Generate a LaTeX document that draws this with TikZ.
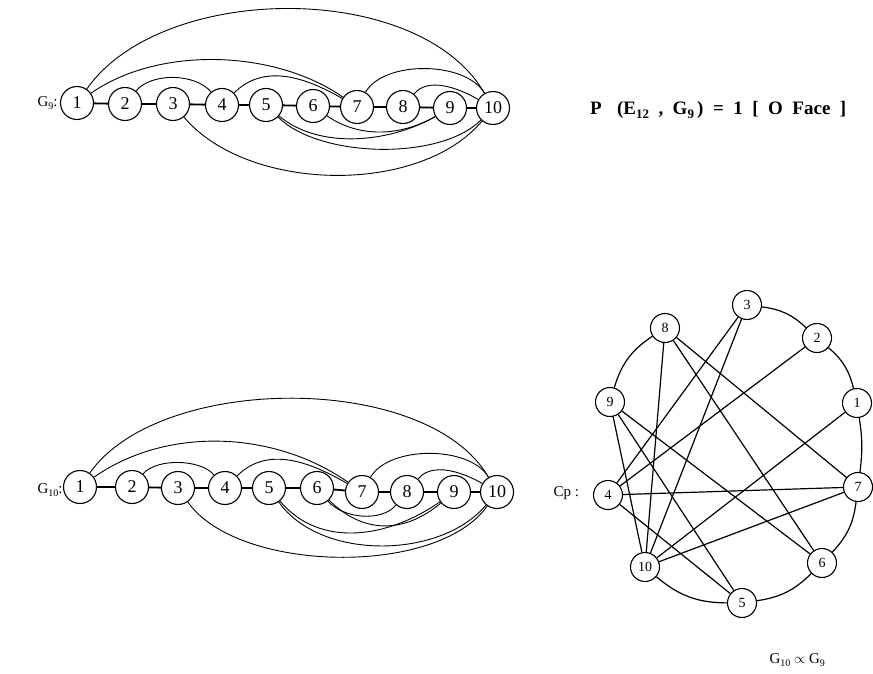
\documentclass[tikz,border=0pt]{standalone}
\usepackage{fontspec}
\setmainfont{Liberation Serif}
\newcommand\lowsub[1]{\raisebox{-0.45ex}{\fontsize{10}{10}\selectfont #1}}
\newcommand\psub[1]{\raisebox{-0.5ex}{\fontsize{13}{13}\selectfont #1}}
\begin{document}
\begin{tikzpicture}[x=1pt,y=1pt,
  vx/.style={circle,draw,line width=1.1pt,minimum size=33pt,inner sep=0pt,font=\fontsize{18}{18}\selectfont},
  cx/.style={circle,draw,line width=1.1pt,minimum size=29pt,inner sep=0pt,font=\fontsize{14}{14}\selectfont},
  pe/.style={line width=1.8pt},
  arc/.style={line width=0.9pt},
  ch/.style={line width=1.2pt},
  lbl/.style={font=\fontsize{15}{15}\selectfont}]
\useasboundingbox (0,0) rectangle (873,-674);
% ---------- G9 ----------
\foreach \i/\x/\y in {1/77/103,2/125/104,3/173/104,4/222/105,5/266/105,6/313/106,7/357/107,8/403/107,9/450/108,10/493/108}
  \node[vx] (a\i) at (\x,-\y) {\i};
\draw[pe] (a1)--(a2)--(a3)--(a4)--(a5)--(a6)--(a7)--(a8)--(a9)--(a10);
\draw[arc] (a1) to[out=55,in=120,looseness=0.84] (a10);
\draw[arc] (a1) to[out=35,in=145,looseness=0.84] (a7);
\draw[arc] (a2) to[out=50,in=130,looseness=0.83] (a4);
\draw[arc] (a4) to[out=45,in=150,looseness=1.0] (a7);
\draw[arc] (a7) to[out=60,in=120,looseness=0.8] (a10);
\draw[arc] (a8) to[out=50,in=150,looseness=0.9] (a10);
\draw[arc] (a3) to[out=-50,in=-130,looseness=0.84] (a10);
\draw[arc] (a5) to[out=-40,in=-150,looseness=0.86] (a9);
\draw[arc] (a5) to[out=-45,in=-135,looseness=0.73] (a10);
\draw[arc] (a6) to[out=-35,in=-150,looseness=0.93] (a9);
\node[lbl,anchor=west] (lg9) at (34,-103) {G\lowsub{9}:};
% ---------- G10 ----------
\foreach \i/\x/\y in {1/80/487,2/132/487,3/178/488,4/225/488,5/269/488,6/317/488,7/362/492,8/407/492,9/454/492,10/497/492}
  \node[vx] (b\i) at (\x,-\y) {\i};
\draw[pe] (b1)--(b2)--(b3)--(b4)--(b5)--(b6)--(b7)--(b8)--(b9)--(b10);
\draw[arc] (b1) to[out=55,in=120,looseness=0.78] (b10);
\draw[arc] (b1) to[out=35,in=145,looseness=0.9] (b7);
\draw[arc] (b2) to[out=50,in=130,looseness=0.75] (b4);
\draw[arc] (b4) to[out=45,in=150,looseness=1.0] (b7);
\draw[arc] (b7) to[out=60,in=120,looseness=0.8] (b10);
\draw[arc] (b8) to[out=50,in=150,looseness=0.9] (b10);
\draw[arc] (b6) to[out=-50,in=-130,looseness=0.85] (b8);
\draw[arc] (b6) to[out=-45,in=-140,looseness=1.1] (b9);
\draw[arc] (b5) to[out=-50,in=-145,looseness=1.0] (b9);
\draw[arc] (b5) to[out=-55,in=-130,looseness=0.88] (b10);
\draw[arc] (b3) to[out=-55,in=-125,looseness=0.74] (b10);
\node[lbl,anchor=west] (lg10) at (34,-490) {G\lowsub{10}:};
% ---------- Cp ----------
\foreach \i/\x/\y in {3/747/305,2/817/338,1/857/403,7/858/487,6/822/563,5/742/603,10/645/567,4/608/495,9/610/402,8/665/328}
  \node[cx] (c\i) at (\x,-\y) {\i};
\foreach \p/\q/\bd in {3/2/18,2/1/18,1/7/8,7/6/18,6/5/18,5/10/20,9/8/20}
  \draw[ch] (c\p) to[bend left=\bd] (c\q);
\foreach \p/\q in {3/4,3/10,2/4,1/10,4/7,7/10,8/7,8/10,8/6,4/5,9/10,9/5,9/6}
  \draw[ch] (c\p) -- (c\q);
\node[lbl,anchor=west] (lcp) at (550,-493) {Cp :};
% ---------- texts ----------
\node[anchor=west,inner sep=0pt,font=\fontsize{19}{19}\selectfont\bfseries] (prob) at (590,-110)
  {\spaceskip=0.5em P\hspace{0.3em} (E\psub{12} , G\psub{9}\,) = 1 [ O Face ]};
\node[lbl,anchor=west] (cap) at (766,-660) {G\lowsub{10} $\propto$ G\lowsub{9}};
\end{tikzpicture}
\end{document}
